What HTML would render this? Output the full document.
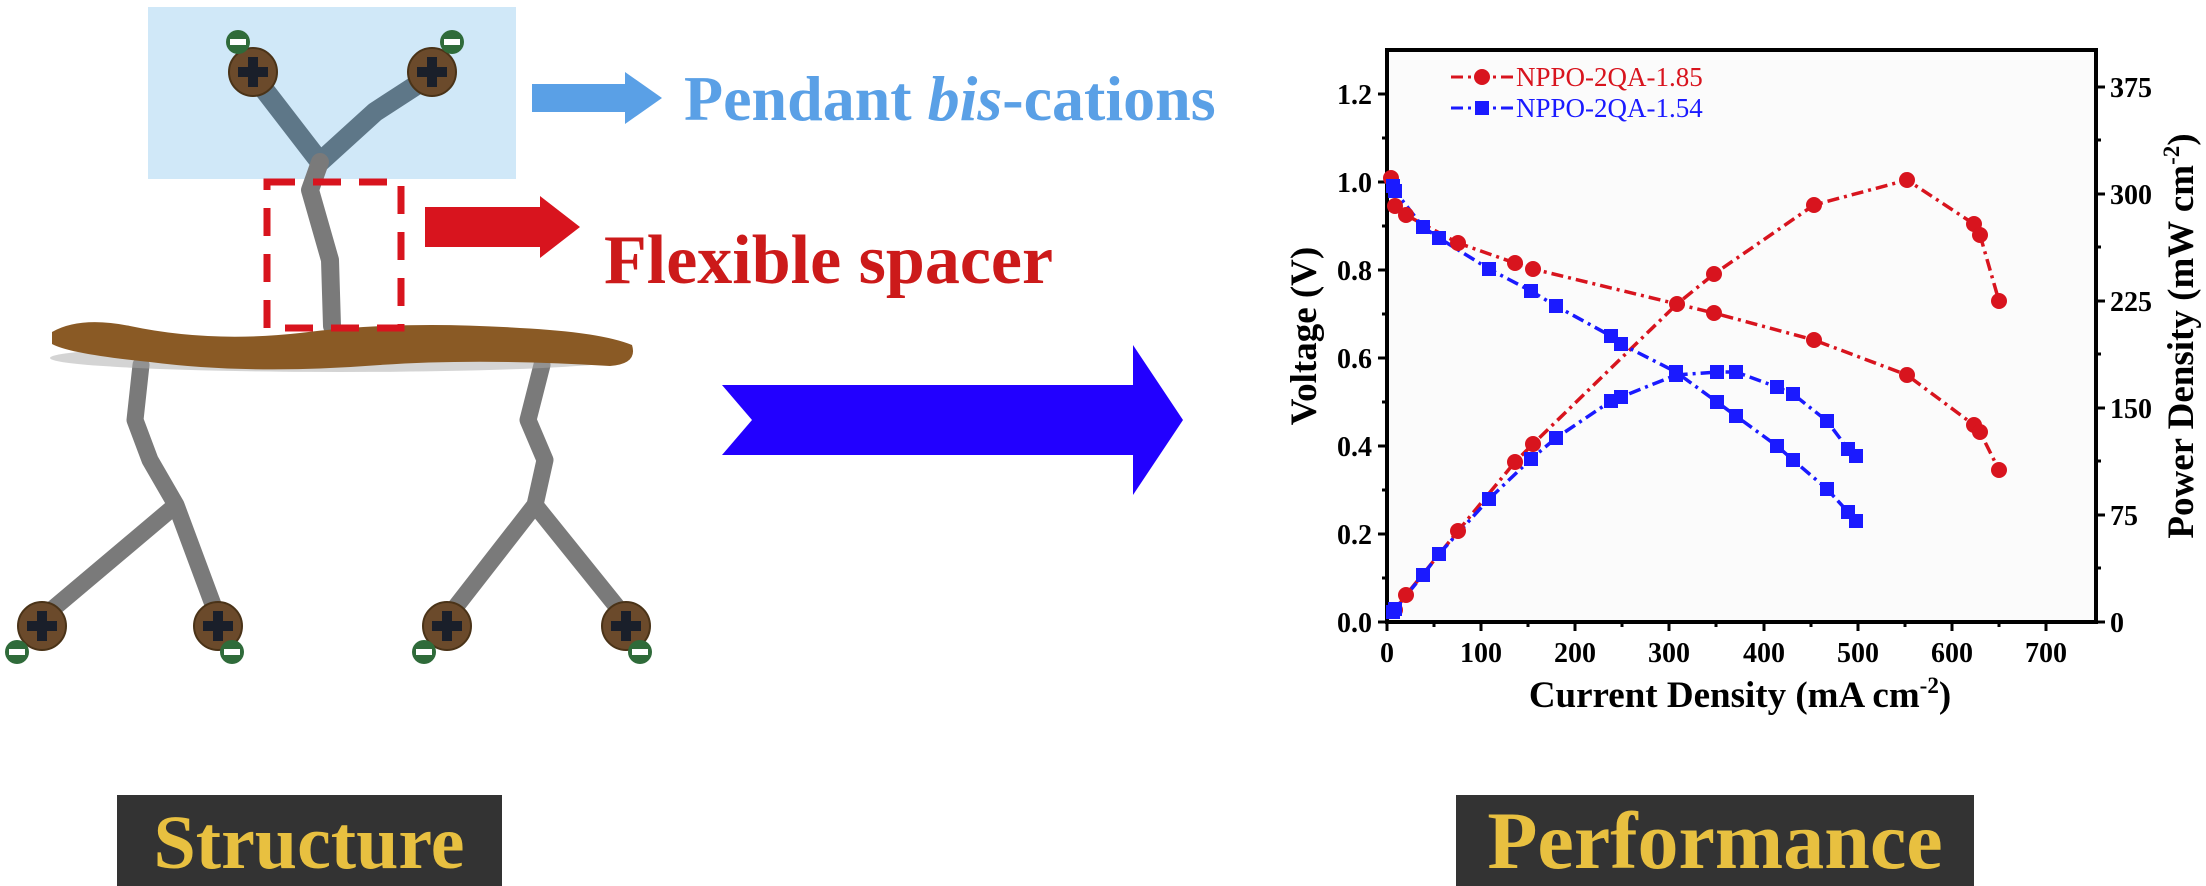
<!DOCTYPE html>
<html><head><meta charset="utf-8"><style>
html,body{margin:0;padding:0;background:#fff;}
svg{display:block;}
text{font-family:"Liberation Serif",serif;}
</style></head><body>
<svg width="2206" height="886" viewBox="0 0 2206 886" xmlns="http://www.w3.org/2000/svg">
<rect width="2206" height="886" fill="#fff"/>
<rect x="148" y="7" width="368" height="172" fill="#d0e8f8"/>
<g fill="none" stroke-linecap="round" stroke-linejoin="round">
<path d="M253 75 L320 162 L375 112 L432 75" stroke="#5e7788" stroke-width="20"/>
<path d="M320 162 L310 190 L330 260 L332 326" stroke="#7a7a7a" stroke-width="18"/>
<path d="M141 365 L135 420 L150 460 L176 505 M42 618 L176 505 L218 618" stroke="#7a7a7a" stroke-width="17"/>
<path d="M542 365 L528 420 L545 460 L535 505 M447 618 L535 505 L626 618" stroke="#7a7a7a" stroke-width="17"/>
</g>
<ellipse cx="340" cy="358" rx="290" ry="14" fill="#aaa" opacity="0.5"/>
<path d="M52 332 Q80 316 130 326 Q210 343 300 333 Q400 320 520 328 Q600 332 632 345 Q638 364 610 366 Q480 358 380 365 Q250 375 150 362 Q70 354 52 344 Z" fill="#8a5a25"/>
<g fill="none" stroke="#d8141e" stroke-width="7" stroke-dasharray="28 18">
<rect x="267" y="182" width="134" height="146"/>
</g>
<g>
<g fill="#6b4a2b" stroke="#4a3318" stroke-width="2">
<circle cx="253" cy="72" r="24"/><circle cx="432" cy="72" r="24"/>
<circle cx="42" cy="626" r="24"/><circle cx="218" cy="626" r="24"/>
<circle cx="447" cy="626" r="24"/><circle cx="626" cy="626" r="24"/>
</g>
<g fill="#1a1f2a">
<rect x="238" y="67" width="30" height="10"/><rect x="248" y="57" width="10" height="30"/>
<rect x="417" y="67" width="30" height="10"/><rect x="427" y="57" width="10" height="30"/>
<rect x="27" y="621" width="30" height="10"/><rect x="37" y="611" width="10" height="30"/>
<rect x="203" y="621" width="30" height="10"/><rect x="213" y="611" width="10" height="30"/>
<rect x="432" y="621" width="30" height="10"/><rect x="442" y="611" width="10" height="30"/>
<rect x="611" y="621" width="30" height="10"/><rect x="621" y="611" width="10" height="30"/>
</g>
<g fill="#2f6b3a"><circle cx="238" cy="42" r="12"/><circle cx="452" cy="42" r="12"/>
<circle cx="17" cy="652" r="12"/><circle cx="232" cy="652" r="12"/><circle cx="424" cy="652" r="12"/><circle cx="640" cy="652" r="12"/></g>
<g fill="#fff"><rect x="230" y="39" width="16" height="6"/><rect x="444" y="39" width="16" height="6"/>
<rect x="9" y="649" width="16" height="6"/><rect x="224" y="649" width="16" height="6"/><rect x="416" y="649" width="16" height="6"/><rect x="632" y="649" width="16" height="6"/></g>
</g>
<path d="M532 84 H625 V72 L662 98 L625 124 V112 H532 Z" fill="#5aa0e6"/>
<text x="684" y="120" font-size="64" font-weight="bold" fill="#5aa0e6">Pendant <tspan font-style="italic">bis</tspan>-cations</text>
<path d="M425 207 H540 V196 L580 227 L540 258 V247 H425 Z" fill="#d8141e"/>
<text x="604" y="283" font-size="70" font-weight="bold" fill="#cc1a1a">Flexible spacer</text>
<path d="M722 385 H1133 V345 L1183 420 L1133 495 V455 H722 L752 420 Z" fill="#2200ff"/>
<rect x="117" y="795" width="385" height="91" fill="#333"/>
<text x="309" y="868" font-size="76" font-weight="bold" fill="#e8c040" text-anchor="middle">Structure</text>
<rect x="1456" y="795" width="518" height="91" fill="#333"/>
<text x="1715" y="868" font-size="82" font-weight="bold" fill="#e8c040" text-anchor="middle">Performance</text>
<!-- CHART -->
<rect x="1387" y="50" width="709" height="572" fill="#fbfbfb"/>
<g stroke="#000" stroke-width="4" fill="none">
<rect x="1387" y="50" width="709" height="572"/>
</g>
<g stroke="#000" stroke-width="3">
<line x1="1378" y1="94" x2="1387" y2="94"/><line x1="1378" y1="182" x2="1387" y2="182"/><line x1="1378" y1="270" x2="1387" y2="270"/><line x1="1378" y1="358" x2="1387" y2="358"/><line x1="1378" y1="446" x2="1387" y2="446"/><line x1="1378" y1="534" x2="1387" y2="534"/><line x1="1378" y1="622" x2="1387" y2="622"/>
<line x1="1382" y1="138" x2="1387" y2="138"/><line x1="1382" y1="226" x2="1387" y2="226"/><line x1="1382" y1="314" x2="1387" y2="314"/><line x1="1382" y1="402" x2="1387" y2="402"/><line x1="1382" y1="490" x2="1387" y2="490"/><line x1="1382" y1="578" x2="1387" y2="578"/>
<line x1="2096" y1="87" x2="2105" y2="87"/><line x1="2096" y1="194" x2="2105" y2="194"/><line x1="2096" y1="301" x2="2105" y2="301"/><line x1="2096" y1="408" x2="2105" y2="408"/><line x1="2096" y1="515" x2="2105" y2="515"/><line x1="2096" y1="622" x2="2105" y2="622"/>
<line x1="2096" y1="140" x2="2101" y2="140"/><line x1="2096" y1="247" x2="2101" y2="247"/><line x1="2096" y1="354" x2="2101" y2="354"/><line x1="2096" y1="461" x2="2101" y2="461"/><line x1="2096" y1="568" x2="2101" y2="568"/>
<line x1="1387" y1="622" x2="1387" y2="631"/><line x1="1481" y1="622" x2="1481" y2="631"/><line x1="1575" y1="622" x2="1575" y2="631"/><line x1="1669" y1="622" x2="1669" y2="631"/><line x1="1764" y1="622" x2="1764" y2="631"/><line x1="1858" y1="622" x2="1858" y2="631"/><line x1="1952" y1="622" x2="1952" y2="631"/><line x1="2046" y1="622" x2="2046" y2="631"/>
<line x1="1434" y1="622" x2="1434" y2="627"/><line x1="1528" y1="622" x2="1528" y2="627"/><line x1="1622" y1="622" x2="1622" y2="627"/><line x1="1716" y1="622" x2="1716" y2="627"/><line x1="1811" y1="622" x2="1811" y2="627"/><line x1="1905" y1="622" x2="1905" y2="627"/><line x1="1999" y1="622" x2="1999" y2="627"/>
</g>
<g font-size="28" font-weight="bold" fill="#000" text-anchor="end">
<text x="1372" y="104">1.2</text><text x="1372" y="192">1.0</text><text x="1372" y="280">0.8</text><text x="1372" y="368">0.6</text><text x="1372" y="456">0.4</text><text x="1372" y="544">0.2</text><text x="1372" y="632">0.0</text>
</g>
<g font-size="28" font-weight="bold" fill="#000" text-anchor="start">
<text x="2110" y="97">375</text><text x="2110" y="204">300</text><text x="2110" y="311">225</text><text x="2110" y="418">150</text><text x="2110" y="525">75</text><text x="2110" y="632">0</text>
</g>
<g font-size="28" font-weight="bold" fill="#000" text-anchor="middle">
<text x="1387" y="662">0</text><text x="1481" y="662">100</text><text x="1575" y="662">200</text><text x="1669" y="662">300</text><text x="1764" y="662">400</text><text x="1858" y="662">500</text><text x="1952" y="662">600</text><text x="2046" y="662">700</text>
</g>
<text x="1740" y="707" font-size="37" font-weight="bold" text-anchor="middle">Current Density (mA cm<tspan dy="-14" font-size="23">-2</tspan><tspan dy="14">)</tspan></text>
<text transform="translate(1316,336) rotate(-90)" font-size="37" font-weight="bold" text-anchor="middle">Voltage (V)</text>
<text transform="translate(2193,336) rotate(-90)" font-size="37" font-weight="bold" text-anchor="middle">Power Density (mW cm<tspan dy="-14" font-size="23">-2</tspan><tspan dy="14">)</tspan></text>
<g stroke-width="3" stroke-dasharray="12 5 3 5" fill="none">
<line x1="1451" y1="77" x2="1513" y2="77" stroke="#d8141e"/>
<line x1="1451" y1="108" x2="1513" y2="108" stroke="#1a1aff"/>
</g>
<circle cx="1482" cy="77" r="8" fill="#d8141e"/>
<rect x="1475" y="101" width="14" height="14" fill="#1a1aff"/>
<text x="1516" y="86" font-size="27" fill="#d8141e">NPPO-2QA-1.85</text>
<text x="1516" y="117" font-size="27" fill="#1a1aff">NPPO-2QA-1.54</text>
<g fill="none" stroke-width="3.5" stroke-dasharray="12 5 3 5">
<polyline stroke="#d8141e" points="1391,178 1395,206 1406,215 1458,243 1515,263 1533,269 1714,313 1814,340 1907,375 1974,425 1980,432 1999,470"/>
<polyline stroke="#d8141e" points="1395,610 1406,595 1458,531 1515,462 1533,444 1677,304 1714,274 1814,205 1907,180 1974,224 1980,235 1999,301"/>
<polyline stroke="#1a1aff" points="1393,186 1395,191 1423,227 1439,238 1489,269 1531,291 1556,306 1611,336 1621,344 1676,372 1717,402 1736,416 1777,446 1793,460 1827,489 1848,512 1856,521"/>
<polyline stroke="#1a1aff" points="1393,612 1395,609 1423,575 1439,554 1489,499 1531,459 1556,438 1611,401 1621,397 1676,375 1717,372 1736,372 1777,387 1793,394 1827,421 1848,449 1856,456"/>
</g>
<g fill="#d8141e">
<circle cx="1391" cy="178" r="8"/><circle cx="1395" cy="206" r="8"/><circle cx="1406" cy="215" r="8"/><circle cx="1458" cy="243" r="8"/><circle cx="1515" cy="263" r="8"/><circle cx="1533" cy="269" r="8"/><circle cx="1714" cy="313" r="8"/><circle cx="1814" cy="340" r="8"/><circle cx="1907" cy="375" r="8"/><circle cx="1974" cy="425" r="8"/><circle cx="1980" cy="432" r="8"/><circle cx="1999" cy="470" r="8"/>
<circle cx="1395" cy="610" r="8"/><circle cx="1406" cy="595" r="8"/><circle cx="1458" cy="531" r="8"/><circle cx="1515" cy="462" r="8"/><circle cx="1533" cy="444" r="8"/><circle cx="1677" cy="304" r="8"/><circle cx="1714" cy="274" r="8"/><circle cx="1814" cy="205" r="8"/><circle cx="1907" cy="180" r="8"/><circle cx="1974" cy="224" r="8"/><circle cx="1980" cy="235" r="8"/><circle cx="1999" cy="301" r="8"/>
</g>
<g fill="#1a1aff" transform="translate(-7,-7)">
<rect x="1393" y="186" width="14" height="14"/><rect x="1395" y="191" width="14" height="14"/><rect x="1423" y="227" width="14" height="14"/><rect x="1439" y="238" width="14" height="14"/><rect x="1489" y="269" width="14" height="14"/><rect x="1531" y="291" width="14" height="14"/><rect x="1556" y="306" width="14" height="14"/><rect x="1611" y="336" width="14" height="14"/><rect x="1621" y="344" width="14" height="14"/><rect x="1676" y="372" width="14" height="14"/><rect x="1717" y="402" width="14" height="14"/><rect x="1736" y="416" width="14" height="14"/><rect x="1777" y="446" width="14" height="14"/><rect x="1793" y="460" width="14" height="14"/><rect x="1827" y="489" width="14" height="14"/><rect x="1848" y="512" width="14" height="14"/><rect x="1856" y="521" width="14" height="14"/>
<rect x="1393" y="612" width="14" height="14"/><rect x="1395" y="609" width="14" height="14"/><rect x="1423" y="575" width="14" height="14"/><rect x="1439" y="554" width="14" height="14"/><rect x="1489" y="499" width="14" height="14"/><rect x="1531" y="459" width="14" height="14"/><rect x="1556" y="438" width="14" height="14"/><rect x="1611" y="401" width="14" height="14"/><rect x="1621" y="397" width="14" height="14"/><rect x="1676" y="375" width="14" height="14"/><rect x="1717" y="372" width="14" height="14"/><rect x="1736" y="372" width="14" height="14"/><rect x="1777" y="387" width="14" height="14"/><rect x="1793" y="394" width="14" height="14"/><rect x="1827" y="421" width="14" height="14"/><rect x="1848" y="449" width="14" height="14"/><rect x="1856" y="456" width="14" height="14"/>
</g>
</svg>
</body></html>
